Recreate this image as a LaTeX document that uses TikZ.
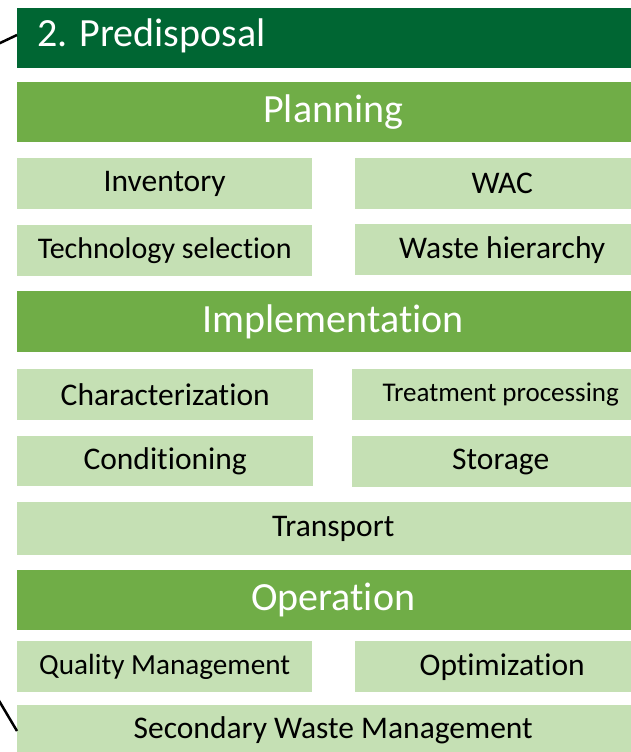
\documentclass[tikz,border=0pt]{standalone}
\usepackage{fontspec}
\setmainfont{Carlito}[RawFeature={-liga;-clig;-dlig;-calt}]
\definecolor{darkgreen}{RGB}{0,102,51}
\definecolor{midgreen}{RGB}{112,173,71}
\definecolor{lightgreen}{RGB}{197,224,180}

\begin{document}
\begin{tikzpicture}[x=1pt,y=-1pt,
    box/.style={anchor=north west, inner sep=0pt, minimum height=51pt},
    head/.style={box, fill=midgreen, text=white, minimum width=632pt, minimum height=60pt, font=\fontsize{40}{48}\selectfont},
    item/.style={box, fill=lightgreen, text=black, font=\fontsize{31.5}{38}\selectfont},
    link/.style={black, line width=2.5pt}]
    \useasboundingbox (0,0) rectangle (631,752);
    \clip (0,0) rectangle (631,752);
    % title and section bars
    \node[box, fill=darkgreen, minimum width=632pt, minimum height=60pt] (title) at (17,8) {};
    \node[anchor=west, text=white, inner sep=0pt, font=\fontsize{40}{48}\selectfont] (titletext) at (37,36) {2. Predisposal};
    \node[head] (planning) at (17,82) {Planning};
    \node[item, minimum width=295pt] (inventory) at (17,158) {Inventory};
    \node[item, minimum width=294pt] (wac) at (355,158) {WAC};
    \node[item, minimum width=295pt, font=\fontsize{30}{36}\selectfont] (techsel) at (17,225) {Technology selection};
    \node[item, minimum width=294pt] (hierarchy) at (355,224) {Waste hierarchy};
    \node[head, minimum height=61pt] (implementation) at (17,291) {Implementation};
    \node[item, minimum width=296pt] (character) at (17,369) {Characterization};
    \node[item, minimum width=297pt, font=\fontsize{27}{33}\selectfont] (treatment) at (352,369) {Treatment processing};
    \node[item, minimum width=296pt, minimum height=50pt] (conditioning) at (17,436) {Conditioning};
    \node[item, minimum width=297pt] (storage) at (352,436) {Storage};
    \node[item, minimum width=632pt, minimum height=53pt] (transport) at (17,502) {Transport};
    \node[head] (operation) at (17,570) {Operation};
    \node[item, minimum width=295pt, font=\fontsize{29.2}{35}\selectfont] (quality) at (17,641) {Quality Management};
    \node[item, minimum width=294pt] (optimization) at (355,641) {Optimization};
    \node[item, minimum width=632pt] (secondary) at (17,705) {Secondary Waste Management};
    % connectors coming in from the left
    \coordinate (intop) at (-2,44);
    \coordinate (inbottom) at (-2,699);
    \draw[link] (intop) -- (title.west |- 0,35);
    \draw[link] (inbottom) -- (secondary.west |- 0,731);
\end{tikzpicture}
\end{document}
